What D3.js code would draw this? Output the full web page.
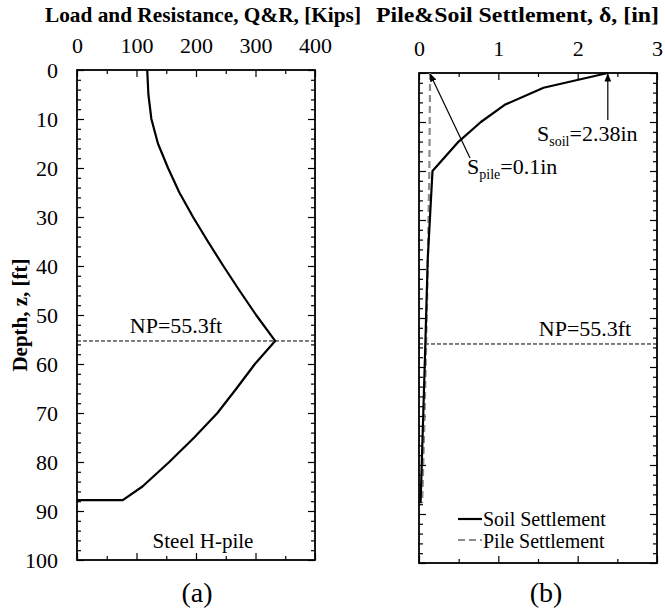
<!DOCTYPE html>
<html>
<head>
<meta charset="utf-8">
<script src="https://cdn.jsdelivr.net/npm/d3@7"></script>
<style>
  body { margin: 0; background: #fff; }
  svg text { font-family: "Liberation Serif", "Times New Roman", Times, serif; fill: #000; }
  .tick line { stroke: #000; stroke-width: 1.2; }
  .tick text { font-size: 22px; }
</style>
</head>
<body>
<div id="graph"></div>
<script>
// data
var depthTicks = [0, 10, 20, 30, 40, 50, 60, 70, 80, 90, 100];
var depthMinor = [2, 4, 6, 8, 12, 14, 16, 18, 22, 24, 26, 28, 32, 34, 36, 38, 42, 44, 46, 48,
                  52, 54, 56, 58, 62, 64, 66, 68, 72, 74, 76, 78, 82, 84, 86, 88, 92, 94, 96, 98];
var loadTicks = [0, 100, 200, 300, 400];
var loadMinor = [50, 150, 250, 350];
var settleTicks = [0, 1, 2, 3];
var settleMinor = [0.5, 1.5, 2.5];

// (a) load / resistance along the pile
var loadDepth = [0, 5, 10, 15, 20, 25, 30, 35, 40, 45, 50, 55.3, 60, 65, 70, 75, 80, 85, 87.8, 87.8];
var loadValue = [118, 120, 125, 136, 153, 172, 195, 220, 246, 273, 301, 333, 299, 268, 236, 197, 155, 110, 77, 0];

// (b) settlements
var soilDepth = [0, 3, 6.5, 10, 14, 20, 38, 55.3, 87.8];
var soilValue = [2.38, 1.57, 1.08, 0.78, 0.50, 0.17, 0.11, 0.08, 0.02];
var pileDepth = [0, 20, 40, 55.3, 70, 87.8];
var pileValue = [0.14, 0.13, 0.11, 0.09, 0.07, 0.04];

var npDepth = 55.3;
var soilTop = 2.38;
var pileTop = 0.14;

var width = 665, height = 613;
var svg = d3.select("#graph").append("svg")
    .attr("width", width)
    .attr("height", height);

svg.append("defs").append("marker")
    .attr("id", "arrow")
    .attr("viewBox", "0 0 10 10")
    .attr("refX", 9).attr("refY", 5)
    .attr("markerWidth", 7).attr("markerHeight", 7)
    .attr("orient", "auto-start-reverse")
    .append("path")
    .attr("d", "M0,1 L10,5 L0,9 z")
    .attr("fill", "#000");

// panel frame: box + inward ticks on all four sides
function frame(g, x, y, w, h, major, minor, labelY) {
  g.append("g").call(d3.axisTop(x).tickValues(major).tickSize(-7).tickPadding(17).tickFormat(d3.format("d")));
  g.append("g").call(d3.axisTop(x).tickValues(minor).tickSize(-4).tickFormat(""));
  g.append("g").attr("transform", "translate(0," + h + ")")
    .call(d3.axisBottom(x).tickValues(major).tickSize(-7).tickFormat(""));
  g.append("g").attr("transform", "translate(0," + h + ")")
    .call(d3.axisBottom(x).tickValues(minor).tickSize(-4).tickFormat(""));
  var left = g.append("g").call(d3.axisLeft(y).tickValues(depthTicks).tickSize(-7).tickPadding(19));
  if (!labelY) left.selectAll("text").remove();
  g.append("g").call(d3.axisLeft(y).tickValues(depthMinor).tickSize(-4).tickFormat(""));
  g.append("g").attr("transform", "translate(" + w + ",0)")
    .call(d3.axisRight(y).tickValues(depthTicks).tickSize(-7).tickFormat(""));
  g.append("g").attr("transform", "translate(" + w + ",0)")
    .call(d3.axisRight(y).tickValues(depthMinor).tickSize(-4).tickFormat(""));
  g.selectAll(".domain").remove();
  g.append("rect")
    .attr("width", w).attr("height", h)
    .attr("fill", "none").attr("stroke", "#000").attr("stroke-width", 1.8);

  // neutral plane
  g.append("line")
    .attr("x1", 0).attr("x2", w)
    .attr("y1", y(npDepth)).attr("y2", y(npDepth))
    .attr("stroke", "#000").attr("stroke-width", 1)
    .attr("stroke-dasharray", "4,2");
}

// ---------- (a) ----------
var wA = 238, hA = 490;
var gA = svg.append("g").attr("transform", "translate(77,70)");
var xA = d3.scaleLinear().domain([0, 400]).range([0, wA]);
var yA = d3.scaleLinear().domain([0, 100]).range([0, hA]);
frame(gA, xA, yA, wA, hA, loadTicks, loadMinor, true);

var lineA = d3.line()
    .x(function(d) { return xA(d.q); })
    .y(function(d) { return yA(d.z); });

gA.append("path")
    .datum(loadDepth.map(function(z, i) { return {z: z, q: loadValue[i]}; }))
    .attr("fill", "none").attr("stroke", "#000").attr("stroke-width", 2.2)
    .attr("stroke-linejoin", "round")
    .attr("d", lineA);

gA.append("text")
    .attr("x", 99).attr("y", yA(npDepth) - 8)
    .attr("text-anchor", "middle").style("font-size", "22px")
    .text("NP=" + npDepth + "ft");

gA.append("text")
    .attr("x", 126).attr("y", 478)
    .attr("text-anchor", "middle").style("font-size", "21px")
    .text("Steel H-pile");

svg.append("text")
    .attr("x", 45).attr("y", 22)
    .attr("textLength", 316).attr("lengthAdjust", "spacingAndGlyphs")
    .style("font-size", "21px").style("font-weight", "bold")
    .text("Load and Resistance, Q&R, [Kips]");

svg.append("text")
    .attr("transform", "translate(27,315) rotate(-90)")
    .attr("text-anchor", "middle")
    .style("font-size", "21px").style("font-weight", "bold")
    .text("Depth, z, [ft]");

svg.append("text")
    .attr("x", 197).attr("y", 602)
    .attr("text-anchor", "middle").style("font-size", "28px")
    .text("(a)");

// ---------- (b) ----------
var wB = 238, hB = 490;
var gB = svg.append("g").attr("transform", "translate(419,73)");
var xB = d3.scaleLinear().domain([0, 3]).range([0, wB]);
var yB = d3.scaleLinear().domain([0, 100]).range([0, hB]);
frame(gB, xB, yB, wB, hB, settleTicks, settleMinor, false);

var lineB = d3.line()
    .x(function(d) { return xB(d.s); })
    .y(function(d) { return yB(d.z); });

gB.append("path")
    .datum(pileDepth.map(function(z, i) { return {z: z, s: pileValue[i]}; }))
    .attr("fill", "none").attr("stroke", "#8c8c8c").attr("stroke-width", 2.2)
    .attr("stroke-dasharray", "7,4")
    .attr("d", lineB);

gB.append("path")
    .datum(soilDepth.map(function(z, i) { return {z: z, s: soilValue[i]}; }))
    .attr("fill", "none").attr("stroke", "#000").attr("stroke-width", 2.2)
    .attr("stroke-linejoin", "round")
    .attr("d", lineB);

// annotations
gB.append("line")
    .attr("x1", xB(soilTop)).attr("y1", 47)
    .attr("x2", xB(soilTop)).attr("y2", yB(0) + 1)
    .attr("stroke", "#000").attr("stroke-width", 1.2)
    .attr("marker-end", "url(#arrow)");

gB.append("line")
    .attr("x1", 51).attr("y1", 85)
    .attr("x2", xB(pileTop)).attr("y2", yB(0) + 1)
    .attr("stroke", "#000").attr("stroke-width", 1.2)
    .attr("marker-end", "url(#arrow)");

var tSoil = gB.append("text").attr("x", 118).attr("y", 68).style("font-size", "22px");
tSoil.append("tspan").text("S");
tSoil.append("tspan").attr("dy", 5).style("font-size", "14px").text("soil");
tSoil.append("tspan").attr("dy", -5).text("=" + soilTop + "in");

var tPile = gB.append("text").attr("x", 48).attr("y", 101).style("font-size", "22px");
tPile.append("tspan").text("S");
tPile.append("tspan").attr("dy", 5).style("font-size", "14px").text("pile");
tPile.append("tspan").attr("dy", -5).text("=0.1in");

gB.append("text")
    .attr("x", 166).attr("y", yB(npDepth) - 8)
    .attr("text-anchor", "middle").style("font-size", "22px")
    .text("NP=" + npDepth + "ft");

// legend
var legend = gB.append("g").attr("transform", "translate(39,446)");
legend.append("line")
    .attr("x1", 0).attr("x2", 24).attr("y1", 0).attr("y2", 0)
    .attr("stroke", "#000").attr("stroke-width", 2.2);
legend.append("text").attr("x", 25).attr("y", 7).style("font-size", "20px").text("Soil Settlement");
legend.append("line")
    .attr("x1", 0).attr("x2", 24).attr("y1", 21).attr("y2", 21)
    .attr("stroke", "#8c8c8c").attr("stroke-width", 2.2)
    .attr("stroke-dasharray", "7,4");
legend.append("text").attr("x", 25).attr("y", 29).style("font-size", "20px").text("Pile Settlement");

svg.append("text")
    .attr("x", 376).attr("y", 22)
    .attr("textLength", 283).attr("lengthAdjust", "spacingAndGlyphs")
    .style("font-size", "21px").style("font-weight", "bold")
    .text("Pile&Soil Settlement, δ, [in]");

svg.append("text")
    .attr("x", 546).attr("y", 602)
    .attr("text-anchor", "middle").style("font-size", "28px")
    .text("(b)");
</script>
</body>
</html>
